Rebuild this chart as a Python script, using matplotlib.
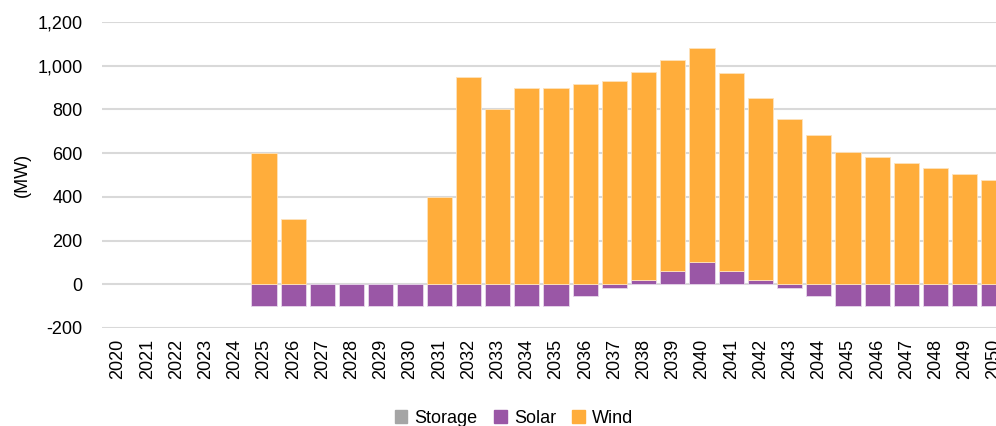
import numpy as np
import matplotlib.pyplot as plt
from matplotlib.patches import Patch

plt.rcParams['font.family'] = ['Liberation Sans', 'DejaVu Sans']

years = [str(y) for y in range(2020, 2051)]
storage = [0] * 31
solar = [0, 0, 0, 0, 0, -100, -100, -100, -100, -100, -100, -100, -100, -100, -100, -100,
         -55, -18, 18, 60, 100, 60, 18, -18, -55, -100, -100, -100, -100, -100, -100]
wind = [0, 0, 0, 0, 0, 600, 300, 0, 0, 0, 0, 400, 950, 800, 900, 900,
        915, 930, 952, 965, 982, 908, 836, 755, 683, 607, 581, 556, 530, 505, 477]

c_storage = '#A5A5A5'
c_solar = '#9A57A6'
c_wind = '#FFAD3B'

fig = plt.figure(figsize=(9.96, 4.26), dpi=100)
ax = fig.add_axes([102 / 996, 1 - 328 / 426, 1 - 102 / 996, (328 - 22) / 426])

x = np.arange(len(years))
storage = np.array(storage)
solar = np.array(solar)
wind = np.array(wind)
pos_base = np.where(solar > 0, solar, 0)


def edges(vals, col):
    # no outline on empty bars
    return [col if v != 0 else 'none' for v in vals]


w = 0.86
ax.bar(x, storage, w, color=c_storage, edgecolor=edges(storage, '#f2f2f2'), linewidth=0.6, zorder=3)
ax.bar(x, solar, w, color=c_solar, edgecolor=edges(solar, '#e8d8ec'), linewidth=0.6, zorder=3)
ax.bar(x, wind, w, bottom=pos_base, color=c_wind, edgecolor=edges(wind, '#fde3bd'),
       linewidth=0.6, zorder=3)

ax.set_ylim(-200, 1200)
ax.set_yticks(range(-200, 1201, 200))
ax.set_yticklabels([f'{v:,}' for v in range(-200, 1201, 200)], fontsize=13)
ax.set_xlim(-0.55, 30.07)
ax.set_xticks(x)
ax.set_xticklabels(years, rotation=90, fontsize=13)
ax.tick_params(axis='y', length=0, pad=14)
ax.tick_params(axis='x', length=0, pad=8)
ax.set_ylabel('(MW)', fontsize=13)
ax.yaxis.set_label_coords(-71 / 894, 0.5)
ax.yaxis.grid(True, color='#d9d9d9', linewidth=1.5, zorder=0)
ax.set_axisbelow(True)
for s in ax.spines.values():
    s.set_visible(False)

handles = [Patch(color=c_storage, label='Storage'),
           Patch(color=c_solar, label='Solar'),
           Patch(color=c_wind, label='Wind')]
fig.legend(handles=handles, loc='lower center', bbox_to_anchor=(514 / 996, -0.04),
           ncol=3, frameon=False, fontsize=13, handlelength=0.7, handleheight=0.7,
           handletextpad=0.4, columnspacing=0.9)

fig.savefig('out.png', dpi=100)
